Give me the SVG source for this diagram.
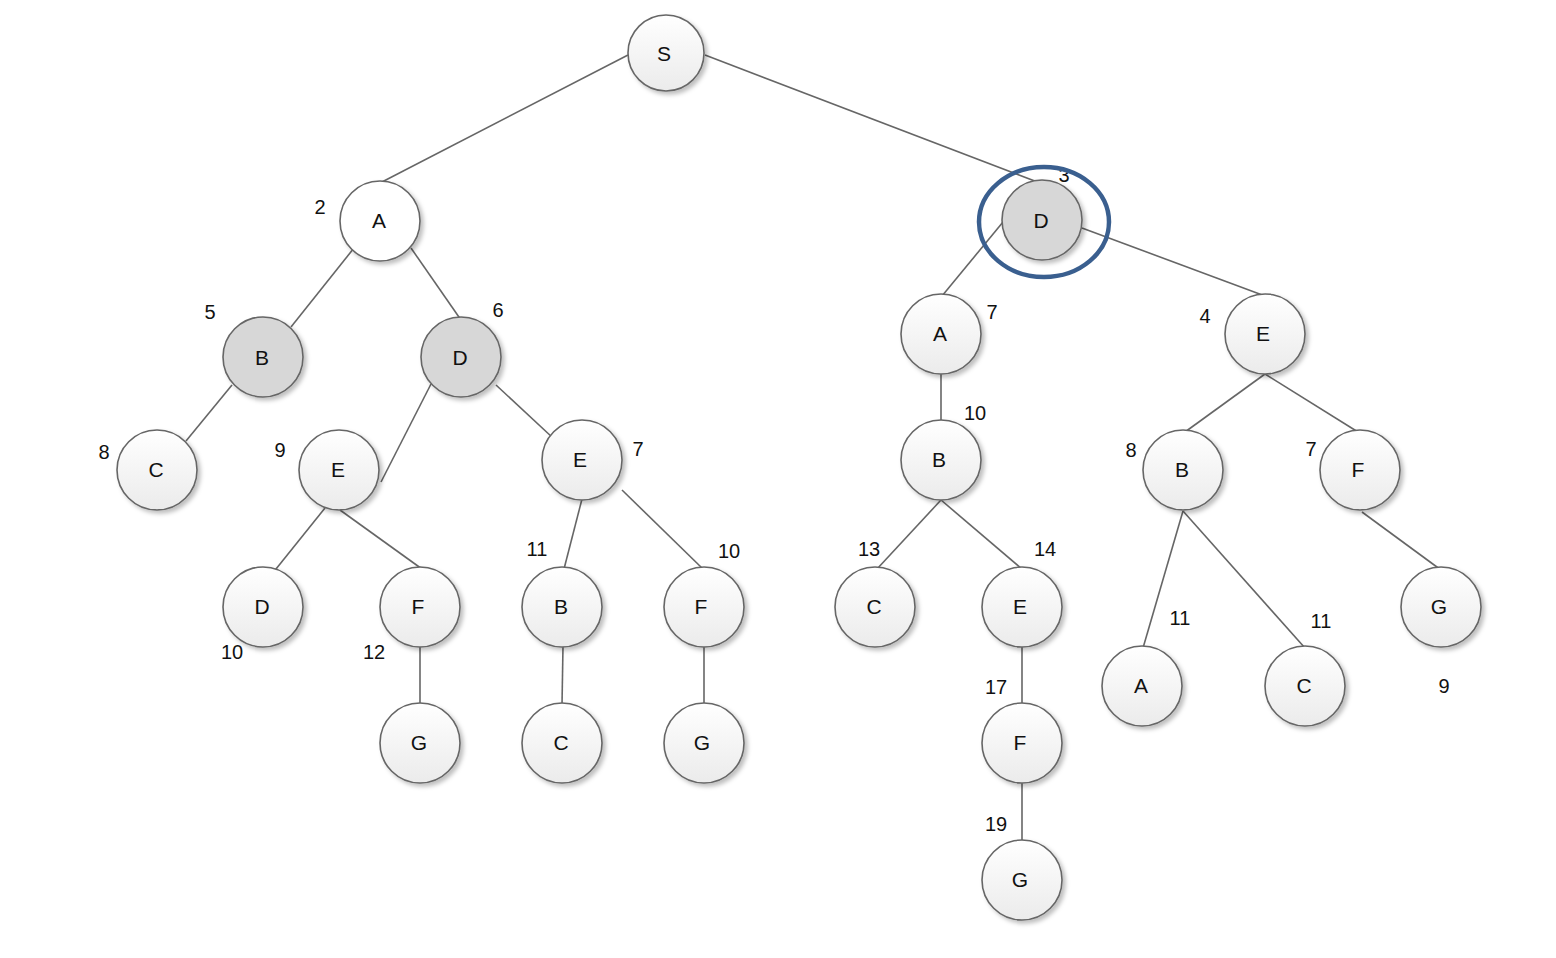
<svg xmlns="http://www.w3.org/2000/svg" width="1556" height="958" viewBox="0 0 1556 958">
<defs>
<linearGradient id="g" x1="0" y1="0" x2="0" y2="1">
<stop offset="0" stop-color="#ffffff"/>
<stop offset="1" stop-color="#ebebeb"/>
</linearGradient>
<filter id="sh" x="-20%" y="-20%" width="150%" height="150%">
<feDropShadow dx="3" dy="3" stdDeviation="2" flood-color="#000" flood-opacity="0.25"/>
</filter>
</defs>
<style>
.n circle{fill:url(#g);stroke:#666;stroke-width:1.6;filter:url(#sh)}
.n.gray circle{fill:#d7d7d7}
.n.white circle{fill:#fff}
.n text{font-family:"Liberation Sans",Arial,sans-serif;font-size:21px;fill:#111;text-anchor:middle;dominant-baseline:central}
.lbl{font-family:"Liberation Sans",Arial,sans-serif;font-size:20px;fill:#111;text-anchor:middle;dominant-baseline:central}
#edges line{stroke:#666;stroke-width:1.6}
</style>
<rect width="1556" height="958" fill="#fff"/>
<g id="edges">
<line x1="628" y1="55" x2="380" y2="183"/>
<line x1="705" y1="55" x2="1040" y2="183"/>
<line x1="354" y1="248" x2="291" y2="327"/>
<line x1="411" y1="248" x2="461" y2="320"/>
<line x1="232" y1="385" x2="186" y2="441"/>
<line x1="431" y1="384" x2="381" y2="482"/>
<line x1="496" y1="385" x2="553" y2="438"/>
<line x1="325" y1="508" x2="272" y2="574"/>
<line x1="340" y1="510" x2="422" y2="569"/>
<line x1="420" y1="646" x2="420" y2="705"/>
<line x1="582" y1="499" x2="564" y2="569"/>
<line x1="622" y1="490" x2="703" y2="569"/>
<line x1="563" y1="646" x2="562" y2="705"/>
<line x1="704" y1="646" x2="704" y2="705"/>
<line x1="1003" y1="222" x2="942" y2="296"/>
<line x1="1082" y1="228" x2="1265" y2="296"/>
<line x1="941" y1="373" x2="941" y2="422"/>
<line x1="1265" y1="374" x2="1185" y2="432"/>
<line x1="1265" y1="374" x2="1358" y2="432"/>
<line x1="941" y1="500" x2="877" y2="569"/>
<line x1="941" y1="500" x2="1022" y2="569"/>
<line x1="1022" y1="646" x2="1022" y2="705"/>
<line x1="1022" y1="783" x2="1022" y2="843"/>
<line x1="1183" y1="511" x2="1143" y2="648"/>
<line x1="1183" y1="511" x2="1305" y2="648"/>
<line x1="1362" y1="512" x2="1441" y2="570"/>
</g>
<g id="nS" class="n"><circle cx="666" cy="53" r="38"/><text x="664" y="53">S</text></g>
<g id="nA1" class="n white"><circle cx="380" cy="221" r="40"/><text x="379" y="220">A</text></g>
<g id="nD1" class="n gray"><circle cx="1042" cy="220" r="40"/><text x="1041" y="220">D</text></g>
<g id="nB2" class="n gray"><circle cx="263" cy="357" r="40"/><text x="262" y="357">B</text></g>
<g id="nD2" class="n gray"><circle cx="461" cy="357" r="40"/><text x="460" y="357">D</text></g>
<g id="nC3" class="n"><circle cx="157" cy="470" r="40"/><text x="156" y="469">C</text></g>
<g id="nE3a" class="n"><circle cx="339" cy="470" r="40"/><text x="338" y="469">E</text></g>
<g id="nE3b" class="n"><circle cx="582" cy="460" r="40"/><text x="580" y="459">E</text></g>
<g id="nD4" class="n"><circle cx="263" cy="607" r="40"/><text x="262" y="606">D</text></g>
<g id="nF4a" class="n"><circle cx="420" cy="607" r="40"/><text x="418" y="606">F</text></g>
<g id="nB4" class="n"><circle cx="562" cy="607" r="40"/><text x="561" y="606">B</text></g>
<g id="nF4b" class="n"><circle cx="704" cy="607" r="40"/><text x="701" y="606">F</text></g>
<g id="nG5a" class="n"><circle cx="420" cy="743" r="40"/><text x="419" y="742">G</text></g>
<g id="nC5" class="n"><circle cx="562" cy="743" r="40"/><text x="561" y="742">C</text></g>
<g id="nG5b" class="n"><circle cx="704" cy="743" r="40"/><text x="702" y="742">G</text></g>
<g id="nA2r" class="n"><circle cx="941" cy="334" r="40"/><text x="940" y="333">A</text></g>
<g id="nE2r" class="n"><circle cx="1265" cy="334" r="40"/><text x="1263" y="333">E</text></g>
<g id="nB3r" class="n"><circle cx="941" cy="460" r="40"/><text x="939" y="459">B</text></g>
<g id="nB3s" class="n"><circle cx="1183" cy="470" r="40"/><text x="1182" y="469">B</text></g>
<g id="nF3s" class="n"><circle cx="1360" cy="470" r="40"/><text x="1358" y="469">F</text></g>
<g id="nC4r" class="n"><circle cx="875" cy="607" r="40"/><text x="874" y="606">C</text></g>
<g id="nE4r" class="n"><circle cx="1022" cy="607" r="40"/><text x="1020" y="606">E</text></g>
<g id="nG4s" class="n"><circle cx="1441" cy="607" r="40"/><text x="1439" y="606">G</text></g>
<g id="nA5s" class="n"><circle cx="1142" cy="686" r="40"/><text x="1141" y="685">A</text></g>
<g id="nC5s" class="n"><circle cx="1305" cy="686" r="40"/><text x="1304" y="685">C</text></g>
<g id="nF5r" class="n"><circle cx="1022" cy="743" r="40"/><text x="1020" y="742">F</text></g>
<g id="nG6r" class="n"><circle cx="1022" cy="880" r="40"/><text x="1020" y="879">G</text></g>
<g id="labels">
<text class="lbl" x="320" y="207">2</text>
<text class="lbl" x="1064" y="175">3</text>
<text class="lbl" x="210" y="312">5</text>
<text class="lbl" x="498" y="310">6</text>
<text class="lbl" x="992" y="312">7</text>
<text class="lbl" x="1205" y="316">4</text>
<text class="lbl" x="104" y="452">8</text>
<text class="lbl" x="280" y="450">9</text>
<text class="lbl" x="638" y="449">7</text>
<text class="lbl" x="975" y="413">10</text>
<text class="lbl" x="1131" y="450">8</text>
<text class="lbl" x="1311" y="449">7</text>
<text class="lbl" x="537" y="549">11</text>
<text class="lbl" x="729" y="551">10</text>
<text class="lbl" x="869" y="549">13</text>
<text class="lbl" x="1045" y="549">14</text>
<text class="lbl" x="232" y="652">10</text>
<text class="lbl" x="374" y="652">12</text>
<text class="lbl" x="1180" y="618">11</text>
<text class="lbl" x="1321" y="621">11</text>
<text class="lbl" x="1444" y="686">9</text>
<text class="lbl" x="996" y="687">17</text>
<text class="lbl" x="996" y="824">19</text>
</g>
<ellipse id="highlight" cx="1044" cy="222" rx="65" ry="55" fill="none" stroke="#3a5f8f" stroke-width="4.5"/>
</svg>
